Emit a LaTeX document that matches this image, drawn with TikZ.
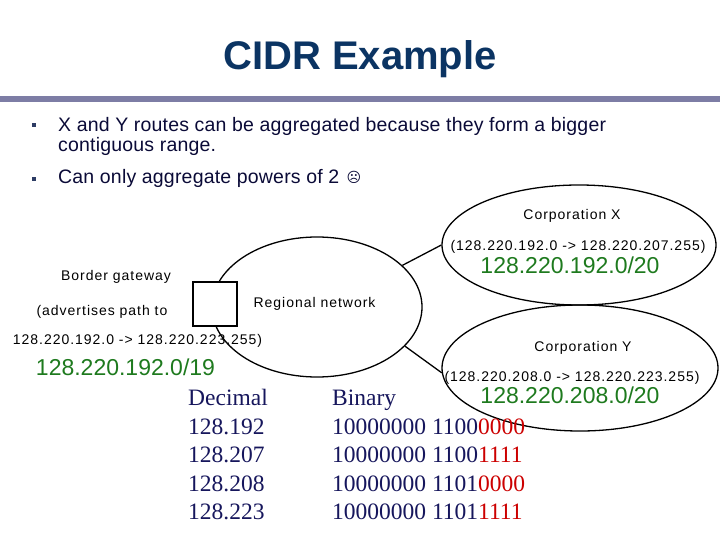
\documentclass[tikz,border=0pt]{standalone}
\usepackage{fontspec}
\setmainfont{Liberation Sans}
\newfontfamily\diagfont[LetterSpace=7]{Liberation Sans}
\newfontfamily\pointfont[LetterSpace=1]{Liberation Sans}
\newfontfamily\tabfont{Liberation Serif}
\newfontfamily\symfont{DejaVu Sans}
\usepackage{tikz}
\usetikzlibrary{shapes.geometric,positioning}

\definecolor{titleblue}{RGB}{11,52,99}
\definecolor{barcolor}{RGB}{125,125,165}
\definecolor{bulletblue}{RGB}{45,60,100}
\definecolor{textnavy}{RGB}{10,10,55}
\definecolor{prefixgreen}{RGB}{30,122,30}
\definecolor{tabblue}{RGB}{22,22,92}
\definecolor{bitred}{RGB}{204,0,0}

\begin{document}
\begin{tikzpicture}[x=1pt,y=-1pt,
    lbl/.style={inner sep=0pt,anchor=base,font=\diagfont\fontsize{14}{16}\selectfont},
    pfx/.style={inner sep=0pt,anchor=base,text=prefixgreen,font=\fontsize{23}{26}\selectfont},
    tab/.style={inner sep=0pt,anchor=base west,text=tabblue,font=\tabfont\fontsize{23.5}{26}\selectfont},
    point/.style={inner sep=0pt,anchor=base west,text=textnavy,font=\pointfont\fontsize{19.5}{22}\selectfont},
    cloud/.style={draw,ellipse,line width=1.3pt,inner sep=0pt}]
    \useasboundingbox (0,0) rectangle (720,540);

    % title and rule
    \node[inner sep=0pt,anchor=base,text=titleblue,font=\bfseries\fontsize{40}{44}\selectfont] (title) at (360,70) {CIDR Example};
    \fill[barcolor] (0,96) rectangle (720,102);

    % bullet points
    \fill[bulletblue] (31.8,122.7) rectangle (36.3,127.2);
    \fill[bulletblue] (31.8,176.7) rectangle (36.3,181.2);
    \node[point] (pa) at (58,132) {X and Y routes can be aggregated because they form a bigger};
    \node[point] (pb) at (58,152) {contiguous range.};
    \node[point] (pc) at (58,184) {Can only aggregate powers of 2};
    \node[inner sep=0pt,text=textnavy,font=\symfont\fontsize{14}{15}\selectfont] (sad) at (354,177) {☹};

    % networks
    \node[cloud,minimum width=210,minimum height=140] (net) at (317,307) {};
    \node[cloud,minimum width=274,minimum height=120] (corpX) at (579,245) {};
    \node[cloud,minimum width=276,minimum height=126] (corpY) at (580,368) {};
    \node[draw,fill=white,line width=1.3pt,minimum size=44,inner sep=0pt] (gw) at (215,304) {};
    \draw[line width=1.3pt] (net.26) -- (corpX.west);
    \draw[line width=1.3pt] (net.-24) -- (corpY.182);

    % labels
    \node[lbl] (netlbl) at (314.5,307) {Regional network};
    \node[lbl] (gwlbl) at (116,280) {Border gateway};
    \node[lbl] (gwadv) at (102,315) {(advertises path to};
    \node[lbl] (gwrange) at (137.5,344) {128.220.192.0 -> 128.220.223.255)};
    \node[pfx] (gwpfx) at (125.5,375) {128.220.192.0/19};

    \node[lbl] (xlbl) at (572,220) {Corporation X};
    \node[lbl] (xrange) at (578,250) {(128.220.192.0 -> 128.220.207.255)};
    \node[pfx] (xpfx) at (570,273) {128.220.192.0/20};

    \node[lbl] (ylbl) at (583,351) {Corporation Y};
    \node[lbl] (yrange) at (572,381) {(128.220.208.0 -> 128.220.223.255)};
    \node[pfx] (ypfx) at (570,403) {128.220.208.0/20};

    % decimal / binary table
    \node[tab] (dec) at (188,405) {Decimal};
    \node[tab] (bin) at (332,405) {Binary};
    \node[tab] (d1) at (188,434) {128.192};
    \node[tab] (b1) at (332,434) {10000000 1100\textcolor{bitred}{0000}};
    \node[tab] (d2) at (188,462.5) {128.207};
    \node[tab] (b2) at (332,462.5) {10000000 1100\textcolor{bitred}{1111}};
    \node[tab] (d3) at (188,491) {128.208};
    \node[tab] (b3) at (332,491) {10000000 1101\textcolor{bitred}{0000}};
    \node[tab] (d4) at (188,519.5) {128.223};
    \node[tab] (b4) at (332,519.5) {10000000 1101\textcolor{bitred}{1111}};
\end{tikzpicture}
\end{document}
